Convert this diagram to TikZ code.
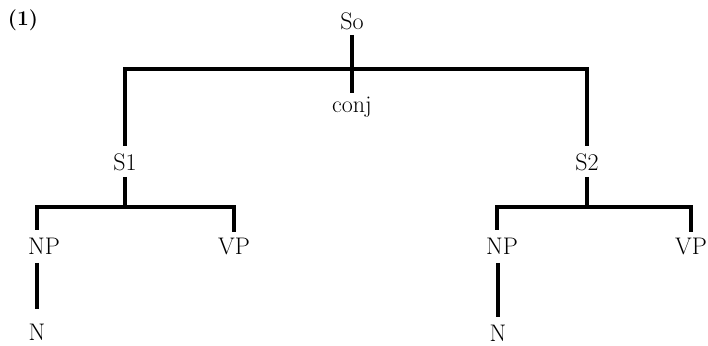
\documentclass[tikz,border=0pt]{standalone}
\begin{document}
\begin{tikzpicture}[x=1pt,y=1pt,
  lbl/.style={inner sep=0pt, outer sep=0pt, anchor=base, text height=17pt, text depth=0pt, font=\fontsize{24}{28}\selectfont},
  edge/.style={line width=3.2pt}]
\useasboundingbox (0,0) rectangle (708,345);
\node[lbl] (num) at (23,319) {\fontsize{21}{25}\selectfont\bfseries (1)};
\node[lbl] (so) at (352,315) {So};
\node[lbl] (conj) at (352,232) {conj};
\node[lbl] (s1) at (125,174) {S1};
\node[lbl] (s2) at (587,174) {S2};
\node[lbl] (np1) at (44,90) {NP};
\node[lbl] (vp1) at (234,90) {VP};
\node[lbl] (n1) at (37,5) {N};
\node[lbl] (np2) at (502,90) {NP};
\node[lbl] (vp2) at (691,90) {VP};
\node[lbl] (n2) at (498,4) {N};
\coordinate (bt) at (352,276);
\coordinate (bl) at (125,138);
\coordinate (br) at (587,138);
% top
\draw[edge, shorten <=5pt, shorten >=3pt] (so.south) -- (conj.north);
\draw[edge, shorten <=8pt, shorten >=8pt] (s1.north) |- (bt) -| (s2.north);
% left subtree
\draw[edge, shorten <=6pt] (s1.south) -- (bl);
\draw[edge, shorten <=8pt, shorten >=6pt] ([xshift=-7pt]np1.north) |- (bl) -| (vp1.north);
\draw[edge, shorten <=8pt, shorten >=14pt] ([xshift=-7pt]np1.south) -- ([xshift=0pt]n1.north);
% right subtree
\draw[edge, shorten <=6pt] (s2.south) -- (br);
\draw[edge, shorten <=8pt, shorten >=6pt] ([xshift=-5pt]np2.north) |- (br) -| (vp2.north);
\draw[edge, shorten <=8pt, shorten >=7pt] ([xshift=-4pt]np2.south) -- (n2.north);
\end{tikzpicture}
\end{document}
